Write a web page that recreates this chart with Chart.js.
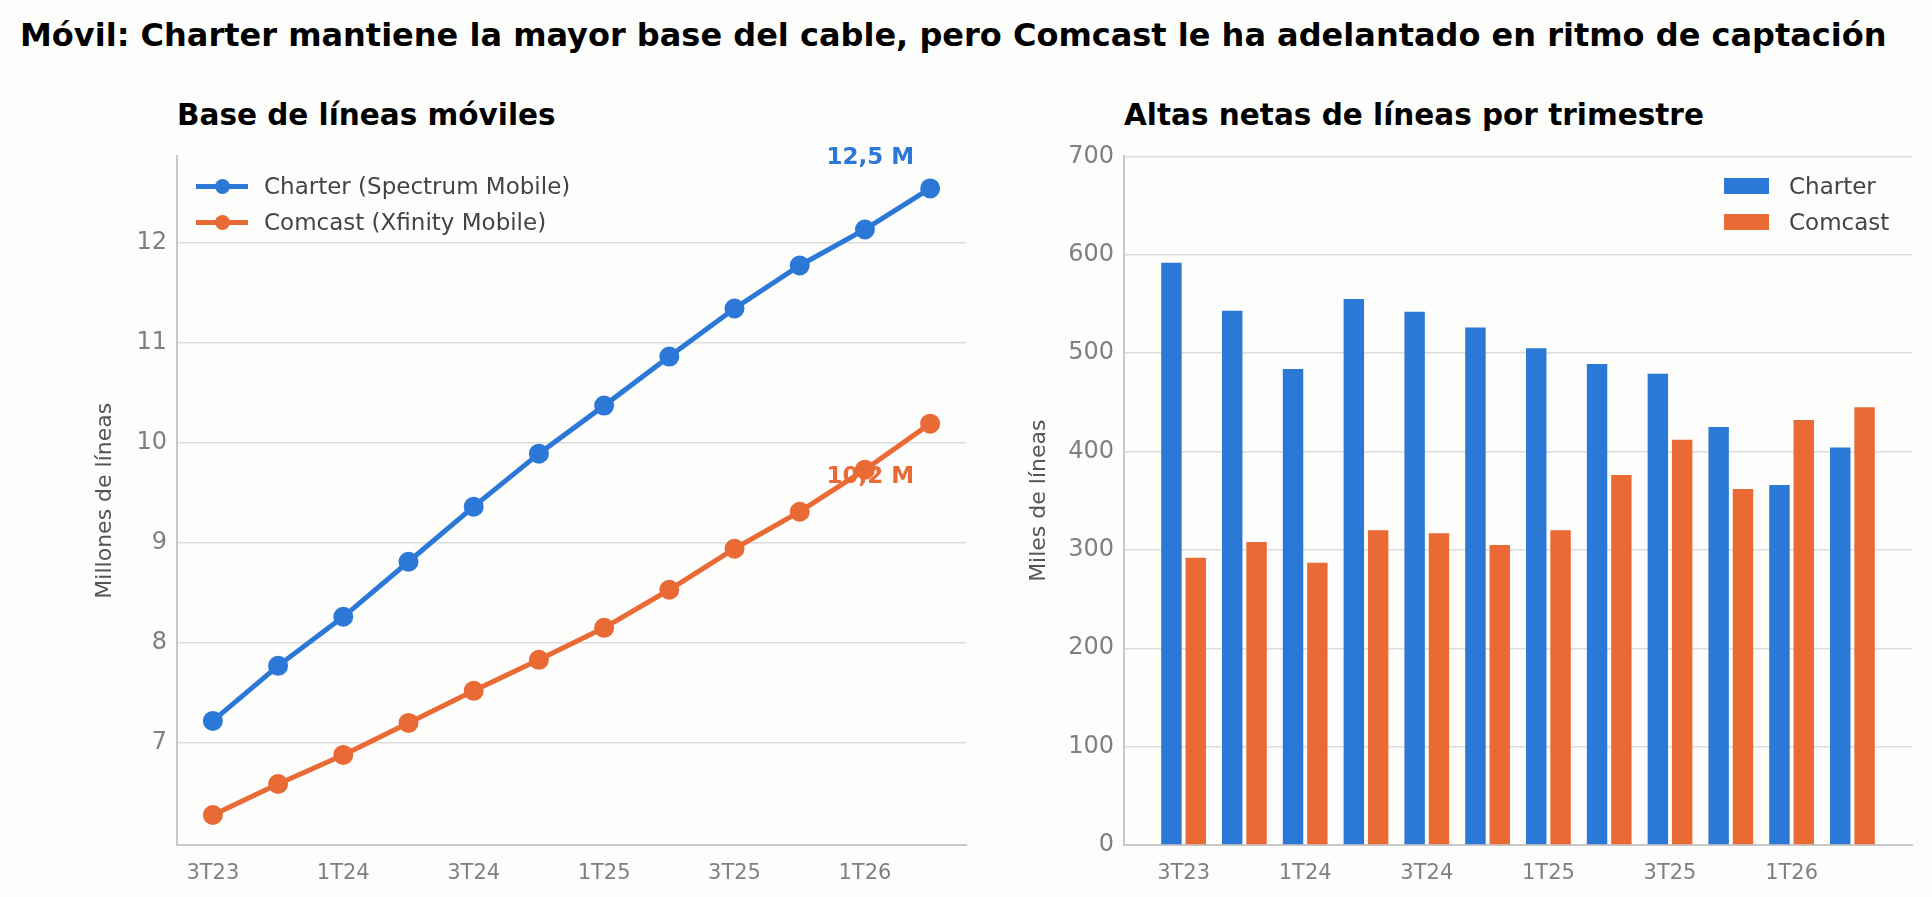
<!DOCTYPE html>
<html>
<head>
<meta charset="utf-8">
<script src="https://cdn.jsdelivr.net/npm/chart.js@4"></script>
<style>
  body { margin: 0; background: #fdfdfc; font-family: "DejaVu Sans", sans-serif; width: 1932px; height: 897px; position: relative; overflow: hidden; }
  .t { position: absolute; font-weight: bold; color: #000; white-space: nowrap; }
  #main { left: 20px; top: 16px; font-size: 32px; }
  .sub { top: 98px; font-size: 29.5px; }
  .box { position: absolute; }
  .leg { position: absolute; font-size: 23px; color: #444; white-space: nowrap; }
  .leg div { height: 36px; display: flex; align-items: center; }
  .ln { width: 52px; height: 5px; position: relative; margin-right: 16px; }
  .ln i { position: absolute; left: 19px; top: -5px; width: 15px; height: 15px; border-radius: 50%; background: inherit; }
  .sq { width: 45px; height: 16px; margin-right: 20px; }
</style>
</head>
<body>
<div class="t" id="main">Móvil: Charter mantiene la mayor base del cable, pero Comcast le ha adelantado en ritmo de captación</div>
<div class="t sub" style="left:177px">Base de líneas móviles</div>
<div class="t sub" style="left:1124px">Altas netas de líneas por trimestre</div>
<div class="box" style="left:88px;top:132px;width:892px;height:765px"><canvas id="c1"></canvas></div>
<div class="box" style="left:1022px;top:132px;width:910px;height:765px"><canvas id="c2"></canvas></div>
<div class="leg" style="left:196px;top:168px">
  <div><span class="ln" style="background:#2b78d6"><i></i></span>Charter (Spectrum Mobile)</div>
  <div><span class="ln" style="background:#e96a35"><i></i></span>Comcast (Xfinity Mobile)</div>
</div>
<div class="leg" style="left:1724px;top:168px">
  <div><span class="sq" style="background:#2b78d6"></span>Charter</div>
  <div><span class="sq" style="background:#e96a35"></span>Comcast</div>
</div>
<script>
const quarters = ['3T23','4T23','1T24','2T24','3T24','4T24','1T25','2T25','3T25','4T25','1T26','2T26'];
const charterBase = [7.22,7.77,8.26,8.81,9.36,9.89,10.37,10.86,11.34,11.77,12.13,12.54];
const comcastBase = [6.28,6.59,6.88,7.20,7.52,7.83,8.15,8.53,8.94,9.31,9.73,10.19];
const charterAdds = [592,543,484,555,542,526,505,489,479,425,366,404];
const comcastAdds = [292,308,287,320,317,305,320,376,412,362,432,445];
const endLabels = ['12,5 M','10,2 M'];

const BLUE = '#2b78d6', ORANGE = '#e96a35';
const pts = arr => arr.map((v, i) => ({ x: i, y: v }));

function xAxis(min, max) {
  return {
    type: 'linear', min: min, max: max, offset: false,
    afterBuildTicks: s => { s.ticks = quarters.map((q, i) => ({ value: i })).filter(t => t.value % 2 === 0); },
    ticks: { color: '#808080', font: { family: 'DejaVu Sans', size: 21 }, callback: v => quarters[v], maxRotation: 0, autoSkip: false, padding: 8 },
    grid: { display: false },
    border: { color: '#c8c8c8', width: 2 },
    afterFit: s => { s.height = 52; }
  };
}
function yAxis(min, max, step, title, w) {
  return {
    min: min, max: max,
    afterBuildTicks: s => { s.ticks = s.ticks.filter(t => Math.abs(t.value - Math.round(t.value)) < 1e-6); },
    ticks: { stepSize: step, color: '#808080', font: { family: 'DejaVu Sans', size: 24 }, padding: 10 },
    grid: { color: '#dcdcdc', lineWidth: 1.5, drawTicks: false },
    border: { color: '#c8c8c8', width: 2 },
    title: { display: true, text: title, color: '#555', font: { family: 'DejaVu Sans', size: 22 } },
    afterFit: s => { s.width = w; }
  };
}

// end-of-line value labels
const endLabelPlugin = {
  id: 'endLabels',
  afterDatasetsDraw(chart) {
    const { ctx, scales } = chart;
    const last = quarters.length - 1;
    const xs = scales.x.getPixelForValue(last) - 16;
    ctx.save();
    ctx.font = 'bold 23px "DejaVu Sans"';
    ctx.textAlign = 'right';
    ctx.textBaseline = 'middle';
    ctx.fillStyle = BLUE;
    ctx.fillText(endLabels[0], xs, scales.y.getPixelForValue(charterBase[last]) - 30);
    ctx.fillStyle = ORANGE;
    ctx.fillText(endLabels[1], xs, scales.y.getPixelForValue(comcastBase[last]) + 53);
    ctx.restore();
  }
};

new Chart(document.getElementById('c1'), {
  type: 'line',
  data: {
    datasets: [
      { data: pts(charterBase), borderColor: BLUE, backgroundColor: BLUE, borderWidth: 5, pointRadius: 7.5, pointHoverRadius: 7.5 },
      { data: pts(comcastBase), borderColor: ORANGE, backgroundColor: ORANGE, borderWidth: 5, pointRadius: 7.5, pointHoverRadius: 7.5 }
    ]
  },
  options: {
    responsive: true, maintainAspectRatio: false, animation: false,
    layout: { padding: { top: 22, right: 14 } },
    plugins: { legend: { display: false }, tooltip: { enabled: false } },
    scales: { x: xAxis(-0.55, 11.55), y: yAxis(5.98, 12.86, 1, 'Millones de líneas', 89) }
  },
  plugins: [endLabelPlugin]
});

new Chart(document.getElementById('c2'), {
  type: 'bar',
  data: {
    datasets: [
      { data: pts(charterAdds), backgroundColor: BLUE, barPercentage: 0.84, categoryPercentage: 0.8 },
      { data: pts(comcastAdds), backgroundColor: ORANGE, barPercentage: 0.84, categoryPercentage: 0.8 }
    ]
  },
  options: {
    responsive: true, maintainAspectRatio: false, animation: false,
    layout: { padding: { top: 22, right: 20 } },
    plugins: { legend: { display: false }, tooltip: { enabled: false } },
    scales: { x: xAxis(-0.98, 11.98), y: yAxis(0, 700, 100, 'Miles de líneas', 102) }
  }
});
</script>
</body>
</html>
